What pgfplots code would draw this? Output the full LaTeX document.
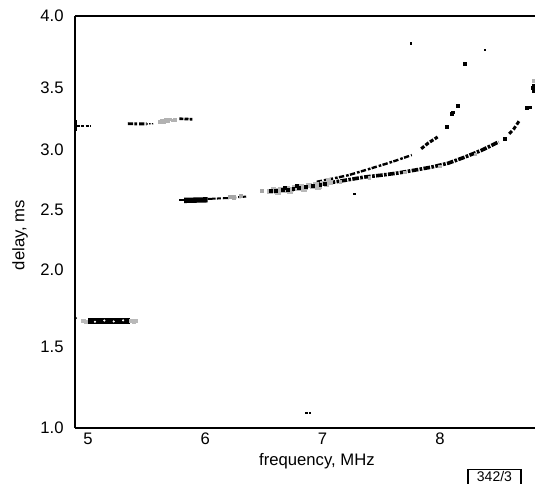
\documentclass[border=0pt]{standalone}
\usepackage{pgfplots}
\pgfplotsset{compat=1.18}
\usepackage{fontspec}
\setmainfont{Liberation Sans}
\begin{document}
\begin{tikzpicture}
\begin{axis}[
  at={(0,0)}, anchor=south west,
  scale only axis, width=345pt, height=309pt,
  xmin=4.89, xmax=8.81, ymin=1, ymax=4,
  y coord trafo/.code={\pgfmathparse{ifthenelse(#1<1.5,162*(#1-1),ifthenelse(#1<2,81+154*(#1-1.5),ifthenelse(#1<2.5,158+120*(#1-2),ifthenelse(#1<3,218+120*(#1-2.5),ifthenelse(#1<3.5,278+124*(#1-3),340+144*(#1-3.5))))))}},
  axis x line=box, axis y line=left,
  axis line style={-, line width=1pt},
  xtick={5,6,7,8}, ytick={1,1.5,2,2.5,3,3.5,4},
  yticklabels={1.0,1.5,2.0,2.5,3.0,3.5,4.0},
  major tick length=0pt,
  /pgf/number format/assume math mode=true,
  tick label style={font=\fontsize{12.5}{14}\selectfont},
  yticklabel style={xshift=-5pt},
  xlabel={frequency, MHz}, ylabel={delay, ms},
  label style={font=\fontsize{12.5}{14}\selectfont},
  xlabel style={at={(axis description cs:0.526,0)}, anchor=center, yshift=-24.75pt},
  ylabel style={at={(axis description cs:-0.1196,0.468)}, anchor=center},
  line cap=butt,
]
% --- 1.67 ms band
\addplot[black, line width=5pt] coordinates {(5.00,1.669) (5.36,1.669)};
\addplot[only marks, mark=square*, mark size=1.3pt, gray!55] coordinates {(4.96,1.672) (4.98,1.664) (5.37,1.672) (5.39,1.667) (5.41,1.669)};
\addplot[only marks, mark=*, mark size=0.6pt, white] coordinates {(5.06,1.664) (5.14,1.672) (5.22,1.666) (5.30,1.673)};
\addplot[only marks, mark=*, mark size=0.8pt, black] coordinates {(4.895,1.688)};
% --- 3.2 ms trace
\addplot[black, line width=2.4pt] coordinates {(4.895,3.15) (4.895,3.24)};
\addplot[black, line width=1.2pt, dash pattern=on 2.5pt off 1pt] coordinates {(4.90,3.195) (5.02,3.195)};
\addplot[black, line width=2.2pt, dash pattern=on 4pt off 1pt on 2pt off 1.5pt] coordinates {(5.34,3.212) (5.50,3.210)};
\addplot[black, line width=1pt, dash pattern=on 1pt off 1pt] coordinates {(5.50,3.210) (5.56,3.212)};
\addplot[only marks, mark=square*, mark size=1.1pt, gray!60] coordinates {(5.61,3.226) (5.63,3.240) (5.65,3.230) (5.66,3.244) (5.68,3.236) (5.70,3.248) (5.72,3.240) (5.74,3.246)};
\addplot[black, line width=2pt, dash pattern=on 3pt off 0.8pt] coordinates {(5.78,3.252) (5.89,3.248)};
% --- lower trace, start
\addplot[black, line width=4pt] coordinates {(5.82,2.580) (6.02,2.585)};
\addplot[black, line width=1.5pt] coordinates {(5.78,2.585) (5.82,2.585)};
\addplot[black, line width=1.5pt, dash pattern=on 6pt off 1pt on 3pt off 1.5pt] coordinates {(6.02,2.592) (6.20,2.600) (6.35,2.612)};
\addplot[only marks, mark=square*, mark size=1.2pt, gray!70] coordinates {(6.21,2.612) (6.24,2.606) (6.30,2.618) (6.48,2.658)};
% --- broad textured section
\addplot[only marks, mark=square*, mark size=1.7pt, gray!55] coordinates {
(6.55,2.655) (6.58,2.668) (6.61,2.660) (6.64,2.672) (6.67,2.665) (6.70,2.680)
(6.73,2.672) (6.76,2.688) (6.79,2.680) (6.82,2.696) (6.85,2.688) (6.88,2.705)
(6.91,2.698) (6.94,2.712) (6.97,2.704) (7.00,2.722) (7.03,2.714) (7.06,2.732)
(6.62,2.650) (6.72,2.662) (6.84,2.675) (6.96,2.690) (7.05,2.745)};
\addplot[only marks, mark=square*, mark size=1.1pt, black] coordinates {
(6.56,2.662) (6.60,2.660) (6.66,2.672) (6.70,2.668) (6.75,2.680) (6.80,2.688)
(6.86,2.694) (6.92,2.703) (6.98,2.712) (7.02,2.720) (6.68,2.684) (6.78,2.700)};
% --- lower main trace
\addplot[black, line width=2.7pt, dash pattern=on 5pt off 1pt on 2pt off 1pt] coordinates {
(6.95,2.712) (7.08,2.730) (7.22,2.752) (7.36,2.775) (7.50,2.790) (7.64,2.808)
(7.79,2.833) (7.93,2.858) (8.07,2.890) (8.21,2.940) (8.36,3.000) (8.50,3.065)};
\addplot[black, line width=2.2pt, dash pattern=on 3pt off 1.5pt] coordinates {(8.59,3.13) (8.63,3.17) (8.68,3.242)};
\addplot[only marks, mark=square*, mark size=1pt, black] coordinates {(8.74,3.339) (8.77,3.345) (8.80,3.48) (8.80,3.52) (8.79,3.50) (8.55,3.090)};
\addplot[only marks, mark=square*, mark size=0.9pt, gray!60] coordinates {(7.15,2.735) (7.40,2.768) (7.70,2.812) (8.00,2.862) (8.30,2.962) (8.80,3.55)};
% --- upper branch
\addplot[black, line width=1.8pt, dash pattern=on 4pt off 1.5pt on 2pt off 1pt] coordinates {
(6.95,2.735) (7.10,2.765) (7.22,2.790) (7.35,2.828) (7.45,2.858) (7.55,2.888)
(7.64,2.917) (7.76,2.958)};
\addplot[black, line width=2.3pt, dash pattern=on 3pt off 1.2pt] coordinates {(7.84,3.010) (7.90,3.056) (7.98,3.105)};
\addplot[only marks, mark=square*, mark size=1pt, black] coordinates {(8.06,3.185) (8.10,3.290) (8.11,3.305) (8.15,3.355) (8.21,3.667)};
\addplot[only marks, mark=square*, mark size=0.5pt, black] coordinates {(8.38,3.764) (7.75,3.810) (7.27,2.633) (6.86,1.093) (6.89,1.093)};
\end{axis}
\draw[line width=0.8pt] (294.75pt,-45pt) -- (294.75pt,-31pt) -- (334.5pt,-31pt) -- (334.5pt,-45pt);
\node[anchor=north, inner sep=0pt, font=\fontsize{10.5}{12}\selectfont] at (314.6pt,-32.1pt) {342/3};
\pgfresetboundingbox
\useasboundingbox (-56.25pt,-41.25pt) rectangle (345pt,321pt);
\end{tikzpicture}
\end{document}
